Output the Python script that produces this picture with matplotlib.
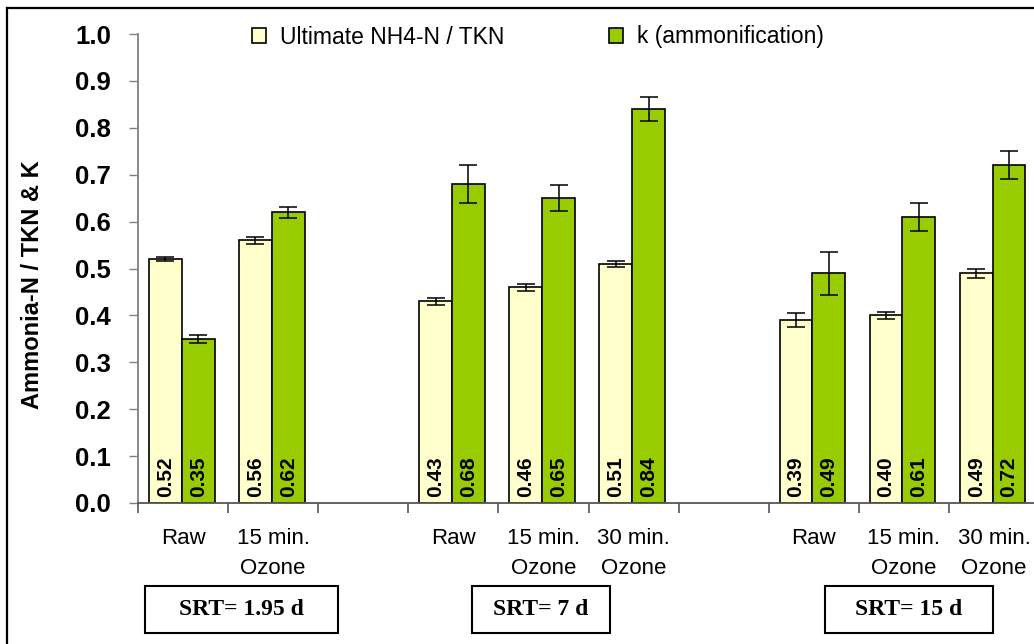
"""
Ammonia-N / TKN ratio and ammonification rate by SRT and ozone dose
"""

import matplotlib.pyplot as plt
import numpy as np
from matplotlib.patches import Rectangle

# category slots along the x axis (blank slots separate the SRT groups)
categories = ["Raw", "15 min.\nOzone", "", "Raw", "15 min.\nOzone", "30 min.\nOzone",
              "", "Raw", "15 min.\nOzone", "30 min.\nOzone"]
nh4_tkn = [0.52, 0.56, np.nan, 0.43, 0.46, 0.51, np.nan, 0.39, 0.40, 0.49]
nh4_tkn_err = [0.005, 0.007, np.nan, 0.007, 0.007, 0.007, np.nan, 0.015, 0.007, 0.010]
k_amm = [0.35, 0.62, np.nan, 0.68, 0.65, 0.84, np.nan, 0.49, 0.61, 0.72]
k_amm_err = [0.008, 0.012, np.nan, 0.040, 0.027, 0.025, np.nan, 0.046, 0.030, 0.030]
srt_labels = ["SRT= 1.95 d", "SRT= 7 d", "SRT= 15 d"]

YELLOW = "#FFFFCC"
GREEN = "#99CC00"

plt.rcParams["font.family"] = ["Liberation Sans", "DejaVu Sans"]

fig = plt.figure(figsize=(10.34, 6.44), dpi=100)
ax = fig.add_axes([138 / 1034, 1 - 503 / 644, 901 / 1034, 469 / 644])

x = np.arange(len(categories))
width = 0.365
err_kw = dict(ecolor="black", elinewidth=1.1, capsize=6.5, capthick=1.1)
b1 = ax.bar(x - 0.1975, nh4_tkn, width, yerr=nh4_tkn_err, color=YELLOW,
            edgecolor="black", linewidth=1.2, error_kw=err_kw,
            label="Ultimate NH4-N / TKN")
b2 = ax.bar(x + 0.1675, k_amm, width, yerr=k_amm_err, color=GREEN,
            edgecolor="black", linewidth=1.2, error_kw=err_kw,
            label="k (ammonification)")

# value labels written upward inside the bars
for bars, vals in ((b1, nh4_tkn), (b2, k_amm)):
    for bar, v in zip(bars, vals):
        if np.isnan(v):
            continue
        ax.text(bar.get_x() + bar.get_width() / 2, 0.012, f"{v:.2f}",
                rotation=90, ha="center", va="bottom", fontsize=15,
                fontweight="bold")

ax.set_xlim(-0.5, len(categories) - 0.5)
ax.set_ylim(0, 1.0)
ax.set_yticks(np.arange(0, 1.01, 0.1))
ax.set_yticklabels([f"{t:.1f}" for t in np.arange(0, 1.01, 0.1)],
                   fontsize=18.5, fontweight="bold")
ax.set_xticks(x)
ax.set_xticklabels(categories, fontsize=16, linespacing=1.55)
ax.set_xticks(np.arange(-0.5, len(categories)), minor=True)
ax.tick_params(axis="x", which="major", length=0, pad=18)
ax.tick_params(axis="x", which="minor", length=7, width=1.2, color="#555555",
               direction="out")
ax.tick_params(axis="y", length=6.5, width=1.0, color="#808080", pad=13,
               direction="out")
for side in ("top", "right"):
    ax.spines[side].set_visible(False)
ax.spines["left"].set_color("#808080")
ax.spines["left"].set_linewidth(1.3)
ax.spines["bottom"].set_color("#555555")
ax.spines["bottom"].set_linewidth(1.3)

fig.text(33 / 1034, 1 - 285 / 644, "Ammonia-N / TKN & K", rotation=90,
         ha="center", va="center", fontsize=17, fontweight="bold")

fig.legend(handles=[b1, b2], loc="center", ncol=2, frameon=False,
           bbox_to_anchor=(538 / 1034, 1 - 37 / 644), fontsize=16.5,
           handlelength=0.6, handleheight=0.6, handletextpad=0.6,
           columnspacing=4.6)

# SRT boxes under each group (centre x, width in pixels)
boxes = [(241, 193), (541, 138), (909, 168)]
for label, (cx, w) in zip(srt_labels, boxes):
    top, h = 586, 47
    fig.patches.append(Rectangle(((cx - w / 2) / 1034, 1 - (top + h) / 644),
                                 w / 1034, h / 644, transform=fig.transFigure,
                                 fill=False, edgecolor="black", linewidth=1.5))
    fig.text(cx / 1034, 1 - (top + h / 2) / 644, label, ha="center",
             va="center", fontsize=17, fontweight="bold",
             family=["Liberation Serif", "DejaVu Serif"])

# outer chart frame
fig.add_artist(plt.Line2D([7 / 1034, 1.0], [1 - 8 / 644] * 2,
                          transform=fig.transFigure, color="black", lw=1.6))
fig.add_artist(plt.Line2D([7 / 1034] * 2, [0, 1 - 8 / 644],
                          transform=fig.transFigure, color="black", lw=1.6))

fig.savefig("out.png", dpi=100)
plt.close(fig)
